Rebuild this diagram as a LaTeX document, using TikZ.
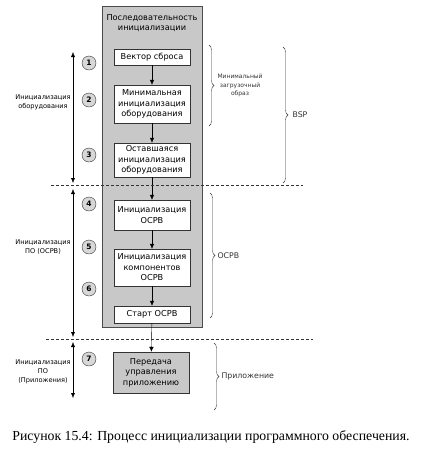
\documentclass[tikz,border=0pt]{standalone}
\usepackage{fontspec}
\setmainfont{DejaVu Sans}
\newfontfamily\capfont{Liberation Serif}
\usepackage{tikz}
\usetikzlibrary{arrows.meta,decorations.pathreplacing}

\definecolor{boxgray}{RGB}{200,200,200}
\definecolor{numgray}{RGB}{215,215,215}

\tikzset{
  stepbox/.style={draw=black!80, fill=white, minimum width=76pt, align=center, inner sep=1pt, font=\fontsize{8.2}{10.5}\selectfont},
  num/.style={circle, draw=black!80, fill=numgray, minimum size=14pt, inner sep=0pt, font=\fontsize{7.5}{8}\selectfont\bfseries},
  flow/.style={-{Latex[length=5pt,width=4.5pt]}, black},
  span/.style={{Latex[length=5pt,width=4pt]}-{Latex[length=5pt,width=4pt]}, black, thin},
  sep/.style={dash pattern=on 3pt off 2pt, black!80},
  brc/.style={decorate, decoration={brace, amplitude=5pt}, black!80},
  side/.style={align=center, font=\fontsize{6.6}{9}\selectfont}
}

\begin{document}
\begin{tikzpicture}[x=1pt,y=-1pt]
\useasboundingbox (0,0) rectangle (422,459);

% container
\draw[draw=black!70, fill=boxgray, line width=0.8pt] (102,6) rectangle (202,327);
\node[align=center, font=\fontsize{8.2}{10.5}\selectfont] (title) at (152,23) {Последовательность\\инициализации};

% steps
\node[stepbox, minimum height=16pt] (reset) at (152,57) {Вектор сброса};
\node[stepbox, minimum height=38pt] (minhw) at (152,104) {Минимальная\\инициализация\\оборудования};
\node[stepbox, minimum height=34pt] (resthw) at (152,160) {Оставшаяся\\инициализация\\оборудования};
\node[stepbox, minimum height=30pt] (rtos) at (152,215) {Инициализация\\ОСРВ};
\node[stepbox, minimum height=37pt] (comp) at (152,267.5) {Инициализация\\компонентов\\ОСРВ};
\node[stepbox, minimum height=17pt] (start) at (152,314.5) {Старт ОСРВ};
\node[stepbox, fill=boxgray, minimum height=41pt] (app) at (151,372.5) {Передача\\управления\\приложению};

\draw[flow] (reset) -- (minhw);
\draw[flow] (minhw) -- (resthw);
\draw[flow] (resthw) -- (rtos);
\draw[flow] (rtos) -- (comp);
\draw[flow] (comp) -- (start);
\draw[flow] (start) -- (app);

% separators
\draw[sep] (51,185) -- (303,185);
\draw[sep] (46,339) -- (313,339);

% numbers
\node[num] (n1) at (89,63) {1};
\node[num] (n2) at (89,100) {2};
\node[num] (n3) at (89,155) {3};
\node[num] (n4) at (89,204) {4};
\node[num] (n5) at (89,247) {5};
\node[num] (n6) at (89,289) {6};
\node[num] (n7) at (89,359) {7};

% left spans
\coordinate (hwtop) at (73,52);
\coordinate (hwbot) at (73,183);
\coordinate (ostop) at (73,189);
\coordinate (osbot) at (73,337);
\coordinate (aptop) at (73,342);
\coordinate (apbot) at (73,398);
\draw[span] (hwtop) -- (hwbot);
\draw[span] (ostop) -- (osbot);
\draw[span] (aptop) -- (apbot);
\node[side] (hwlbl) at (43,102) {Инициализация\\оборудования};
\node[side] (oslbl) at (43,247) {Инициализация\\ПО (ОСРВ)};
\node[side] (aplbl) at (43,372) {Инициализация\\ПО\\(Приложения)};

% right braces
\draw[brc] (209,45) -- (209,126) node[midway, right=5pt, align=center, font=\fontsize{6}{8.5}\selectfont] (img) {Минимальный\\загрузочный\\образ};
\draw[brc] (283,47) -- (283,183) node[midway, right=6pt, font=\fontsize{7.8}{9}\selectfont] (bsp) {BSP};
\draw[brc] (210,193) -- (210,318) node[midway, right=4pt, font=\fontsize{7.8}{9}\selectfont] (oslabel) {ОСРВ};
\draw[brc] (214,343) -- (214,410) node[midway, right=4pt, font=\fontsize{7.8}{9}\selectfont] (applabel) {Приложение};

% caption
\node[font=\capfont\fontsize{13.8}{16}\selectfont] (cap) at (211,437) {Рисунок 15.4: Процесс инициализации программного обеспечения.};
\end{tikzpicture}
\end{document}
